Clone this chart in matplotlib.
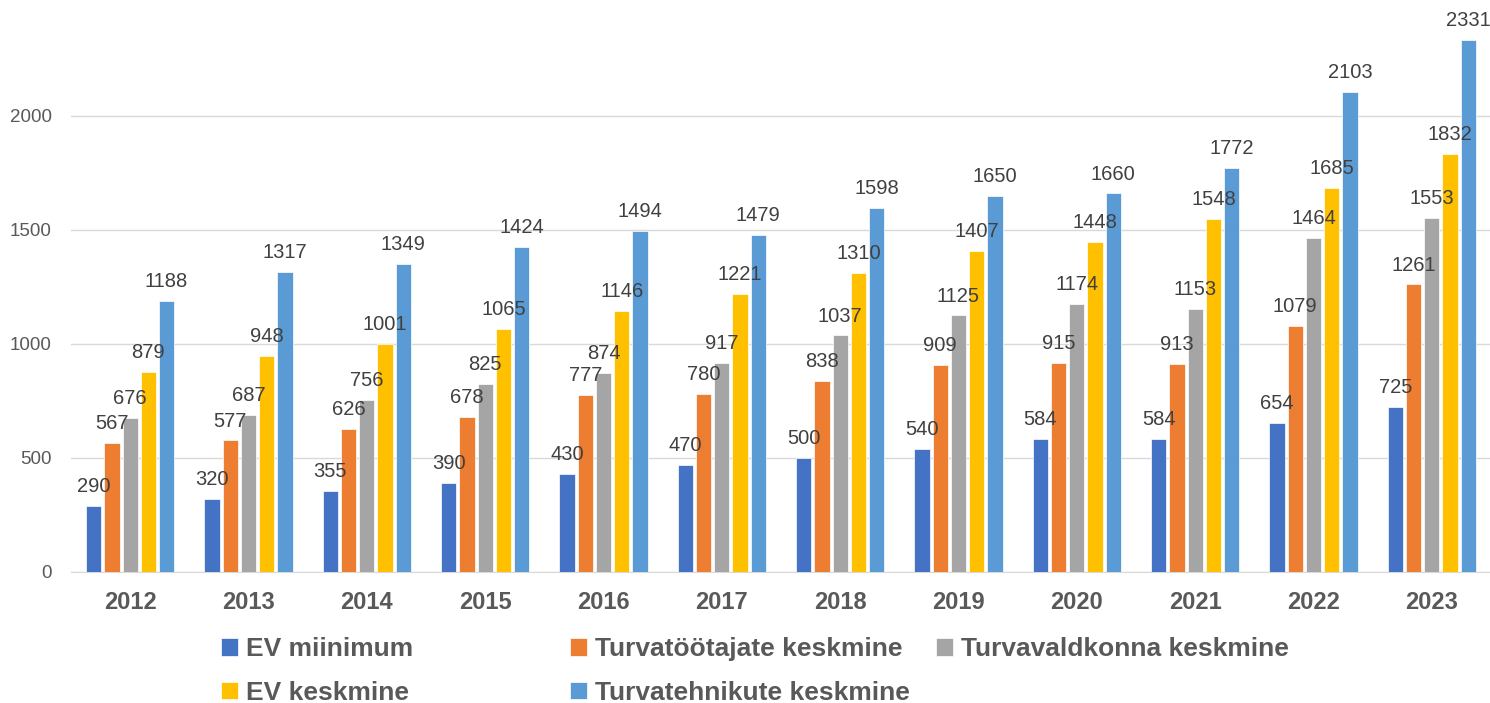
import numpy as np
import matplotlib.pyplot as plt

plt.rcParams['font.family'] = ['Liberation Sans', 'DejaVu Sans']

aastad = ["2012", "2013", "2014", "2015", "2016", "2017", "2018", "2019", "2020", "2021", "2022", "2023"]
ev_miinimum = [290, 320, 355, 390, 430, 470, 500, 540, 584, 584, 654, 725]
turvatootajad = [567, 577, 626, 678, 777, 780, 838, 909, 915, 913, 1079, 1261]
turvavaldkond = [676, 687, 756, 825, 874, 917, 1037, 1125, 1174, 1153, 1464, 1553]
ev_keskmine = [879, 948, 1001, 1065, 1146, 1221, 1310, 1407, 1448, 1548, 1685, 1832]
turvatehnikud = [1188, 1317, 1349, 1424, 1494, 1479, 1598, 1650, 1660, 1772, 2103, 2331]

seeriad = [
    ("EV miinimum", ev_miinimum, "#4472C4"),
    ("Turvatöötajate keskmine", turvatootajad, "#ED7D31"),
    ("Turvavaldkonna keskmine", turvavaldkond, "#A5A5A5"),
    ("EV keskmine", ev_keskmine, "#FFC000"),
    ("Turvatehnikute keskmine", turvatehnikud, "#5B9BD5"),
]

W, H = 1490, 703
fig = plt.figure(figsize=(W / 100, H / 100), dpi=100)
ax = fig.add_axes([71 / W, 1 - 572 / H, 1420 / W, 572 / H])

x = np.arange(len(aastad))
samm = 0.154
laius = 0.128
handles = []
for i, (nimi, vals, col) in enumerate(seeriad):
    pos = x + (i - 2) * samm
    b = ax.bar(pos, vals, width=laius, color=col, edgecolor="white", linewidth=0.5,
               label=nimi, zorder=3)
    handles.append(b)
    for px, v in zip(pos, vals):
        ax.annotate(str(v), (px, v), xytext=(0, 10), textcoords="offset points",
                    ha="center", va="baseline", fontsize=14.5, color="#404040",
                    zorder=4, annotation_clip=False)

ax.set_xlim(-0.5, len(aastad) - 0.5)
ax.set_ylim(0, 2508)
ax.set_yticks([0, 500, 1000, 1500, 2000])
ax.yaxis.grid(True, color="#D9D9D9", linewidth=1, zorder=0)
ax.set_axisbelow(True)
for s in ["top", "right", "left"]:
    ax.spines[s].set_visible(False)
ax.spines["bottom"].set_color("#D9D9D9")
ax.tick_params(axis="both", length=0)
ax.tick_params(axis="y", labelsize=13.5, labelcolor="#595959", pad=14)
ax.set_xticks(x)
ax.set_xticklabels(aastad, fontsize=17, fontweight="bold", color="#595959")
ax.tick_params(axis="x", pad=14)

# legend kolmes veerus, Exceli moodi võrdse laiusega veerud
veerud = [([0, 3], 221), ([1, 4], 570), ([2], 936)]
for idx, xpix in veerud:
    leg = fig.legend([handles[j] for j in idx], [seeriad[j][0] for j in idx],
                     loc="upper left", bbox_to_anchor=(xpix / W, 1 - 637 / H),
                     frameon=False, borderpad=0, borderaxespad=0,
                     handlelength=0.65, handleheight=0.65, handletextpad=0.3,
                     labelspacing=0.75, prop={"size": 19, "weight": "bold"})
    for t in leg.get_texts():
        t.set_color("#595959")

fig.savefig("out.png", dpi=100)
